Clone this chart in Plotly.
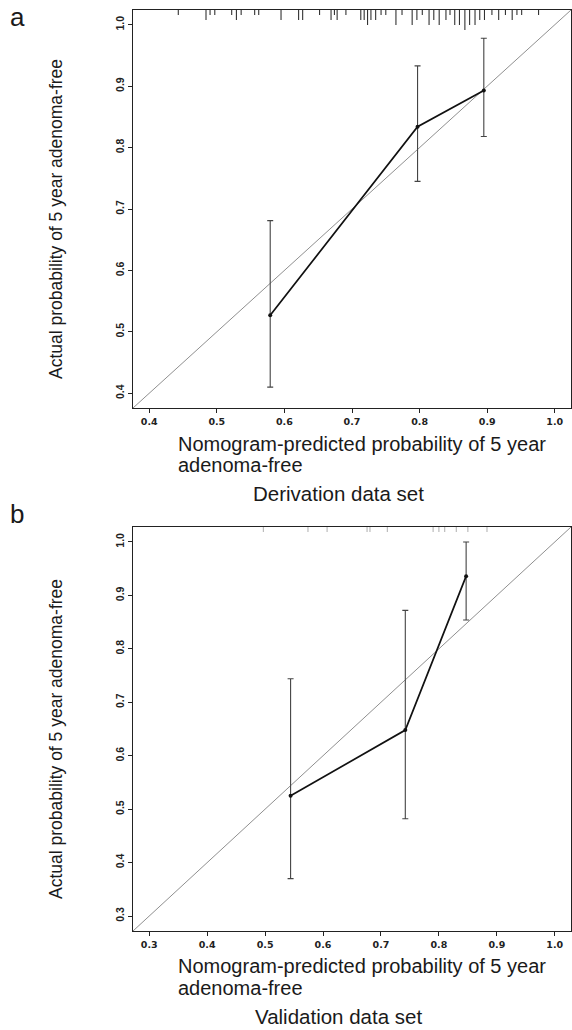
import plotly.graph_objects as go

W, H = 572, 1030

# ---------------- data ----------------
# Panel a: Derivation data set
deriv_pred = [0.579, 0.797, 0.895]
deriv_obs = [0.527, 0.834, 0.893]
deriv_lo = [0.410, 0.745, 0.818]
deriv_hi = [0.681, 0.933, 0.978]
deriv_rug_x = [0.443, 0.484, 0.490, 0.497, 0.522, 0.529, 0.536, 0.556, 0.562, 0.595,
               0.621, 0.627, 0.652, 0.669, 0.674, 0.678, 0.691, 0.713, 0.718, 0.723,
               0.728, 0.735, 0.743, 0.750, 0.765, 0.774, 0.789, 0.796, 0.804, 0.814,
               0.821, 0.829, 0.839, 0.845, 0.852, 0.859, 0.867, 0.874, 0.882, 0.889,
               0.896, 0.907, 0.917, 0.927, 0.937, 0.944, 0.951, 0.976]
deriv_rug_n = [1, 2, 1, 1, 1, 2, 1, 1, 1, 2,
               2, 2, 1, 2, 1, 2, 1, 2, 2, 3,
               2, 2, 1, 1, 3, 1, 3, 2, 1, 3,
               2, 3, 2, 1, 3, 3, 4, 3, 3, 2,
               2, 1, 2, 1, 2, 1, 1, 1]

# Panel b: Validation data set
valid_pred = [0.544, 0.742, 0.847]
valid_obs = [0.525, 0.648, 0.936]
valid_lo = [0.370, 0.482, 0.854]
valid_hi = [0.744, 0.872, 1.000]
valid_rug_x = [0.497, 0.574, 0.607, 0.676, 0.681, 0.711, 0.790, 0.800, 0.810, 0.830, 0.850, 0.883]
valid_rug_n = [1, 1, 1, 1, 1, 1, 1, 1, 1, 1, 1, 1]

range_a = [0.376, 1.024]
range_b = [0.272, 1.028]
ticks_a = [0.4, 0.5, 0.6, 0.7, 0.8, 0.9, 1.0]
ticks_b = [0.3, 0.4, 0.5, 0.6, 0.7, 0.8, 0.9, 1.0]

xtitle_1 = "Nomogram-predicted probability of 5 year"
xtitle_2 = "adenoma-free"
ytitle = "Actual probability of 5 year adenoma-free"
subtitle_a = "Derivation data set"
subtitle_b = "Validation data set"

# ---------------- layout geometry (pixels) ----------------
LEFT, RIGHT = 133, 571
A_TOP, A_BOT = 10, 408
B_TOP, B_BOT = 527, 931


def px_x(p):
    return p / W


def px_y(p):
    return 1 - p / H


FONT = "Liberation Sans, Arial, sans-serif"
FONT_TICK = "DejaVu Sans, Verdana, sans-serif"
TXT = "#1a1a1a"
fig = go.Figure()


def add_panel(xa, ya, pred, obs, lo, hi, rug_x, rug_n, rng, rug_color, top_px, bot_px):
    # ideal line
    fig.add_trace(go.Scatter(x=rng, y=rng, mode="lines", xaxis=xa, yaxis=ya,
                             line=dict(color="#8f8f8f", width=1), showlegend=False,
                             hoverinfo="skip"))
    # rug along the top (length proportional to count)
    unit_per_px = (rng[1] - rng[0]) / (bot_px - top_px)
    rx, ry = [], []
    for v, n in zip(rug_x, rug_n):
        rx += [v, v, None]
        ry += [rng[1], rng[1] - n * 5 * unit_per_px, None]
    fig.add_trace(go.Scatter(x=rx, y=ry, mode="lines", xaxis=xa, yaxis=ya,
                             line=dict(color=rug_color, width=1.1), showlegend=False,
                             hoverinfo="skip"))
    # calibration curve with error bars
    fig.add_trace(go.Scatter(
        x=pred, y=obs, mode="lines+markers", xaxis=xa, yaxis=ya,
        line=dict(color="#111111", width=1.7),
        marker=dict(color="#111111", size=4),
        error_y=dict(type="data", symmetric=False,
                     array=[h - o for h, o in zip(hi, obs)],
                     arrayminus=[o - l for o, l in zip(obs, lo)],
                     color="#444444", thickness=1.1, width=3),
        showlegend=False))


add_panel("x", "y", deriv_pred, deriv_obs, deriv_lo, deriv_hi, deriv_rug_x, deriv_rug_n,
          range_a, "#333333", A_TOP, A_BOT)
add_panel("x2", "y2", valid_pred, valid_obs, valid_lo, valid_hi, valid_rug_x, valid_rug_n,
          range_b, "#b5b5b5", B_TOP, B_BOT)

axis_common = dict(showline=True, linecolor="#222222", linewidth=1.2, mirror=True,
                   ticks="outside", ticklen=4, tickcolor="#222222", tickwidth=1,
                   showgrid=False, zeroline=False)
xtick_font = dict(family=FONT_TICK, size=9.5, color="#222222", weight="bold")
ytick_font = dict(family=FONT, size=10.5, color="#222222", weight="bold")

fig.update_layout(
    width=W, height=H,
    margin=dict(l=0, r=0, t=0, b=0),
    paper_bgcolor="white", plot_bgcolor="white",
    showlegend=False,
    xaxis=dict(domain=[px_x(LEFT), px_x(RIGHT)], range=range_a, tickvals=ticks_a,
               ticktext=[f"{t:.1f}" for t in ticks_a], anchor="y", tickfont=xtick_font,
               **axis_common),
    yaxis=dict(domain=[px_y(A_BOT), px_y(A_TOP)], range=range_a, tickvals=ticks_a,
               ticktext=[f"{t:.1f}" for t in ticks_a], tickangle=-90, anchor="x",
               tickfont=ytick_font, **axis_common),
    xaxis2=dict(domain=[px_x(LEFT), px_x(RIGHT)], range=range_b, tickvals=ticks_b,
                ticktext=[f"{t:.1f}" for t in ticks_b], anchor="y2", tickfont=xtick_font,
                **axis_common),
    yaxis2=dict(domain=[px_y(B_BOT), px_y(B_TOP)], range=range_b, tickvals=ticks_b,
                ticktext=[f"{t:.1f}" for t in ticks_b], tickangle=-90, anchor="x2",
                tickfont=ytick_font, **axis_common),
)

ann = []
# panel letters
ann.append(dict(text="a", x=px_x(17), y=px_y(17), xref="paper", yref="paper",
                xanchor="center", yanchor="middle",
                showarrow=False, font=dict(size=26, family=FONT, color=TXT)))
ann.append(dict(text="b", x=px_x(17), y=px_y(514), xref="paper", yref="paper",
                xanchor="center", yanchor="middle",
                showarrow=False, font=dict(size=26, family=FONT, color=TXT)))
# y titles
for top, bot in [(A_TOP, A_BOT), (B_TOP, B_BOT)]:
    ann.append(dict(text=ytitle, x=px_x(56), y=px_y((top + bot) / 2 + 10), xref="paper",
                    yref="paper", xanchor="center", yanchor="middle", textangle=-90,
                    showarrow=False, font=dict(size=17.5, family=FONT, color=TXT)))
# x titles
for bot, sub, gap1, gap2, gap3 in [(A_BOT, subtitle_a, 36, 57, 86), (B_BOT, subtitle_b, 35, 57, 85)]:
    ann.append(dict(text=xtitle_1, x=px_x(176), y=px_y(bot + gap1),
                    xref="paper", yref="paper", xanchor="left", yanchor="middle",
                    showarrow=False, font=dict(size=20, family=FONT, color=TXT)))
    ann.append(dict(text=xtitle_2, x=px_x(176), y=px_y(bot + gap2),
                    xref="paper", yref="paper", xanchor="left", yanchor="middle",
                    showarrow=False, font=dict(size=20, family=FONT, color=TXT)))
    ann.append(dict(text=sub, x=px_x(338), y=px_y(bot + gap3), xref="paper", yref="paper",
                    xanchor="center", yanchor="middle",
                    showarrow=False, font=dict(size=20.5, family=FONT, color=TXT)))
fig.update_layout(annotations=ann)

fig.write_html("out.html")
